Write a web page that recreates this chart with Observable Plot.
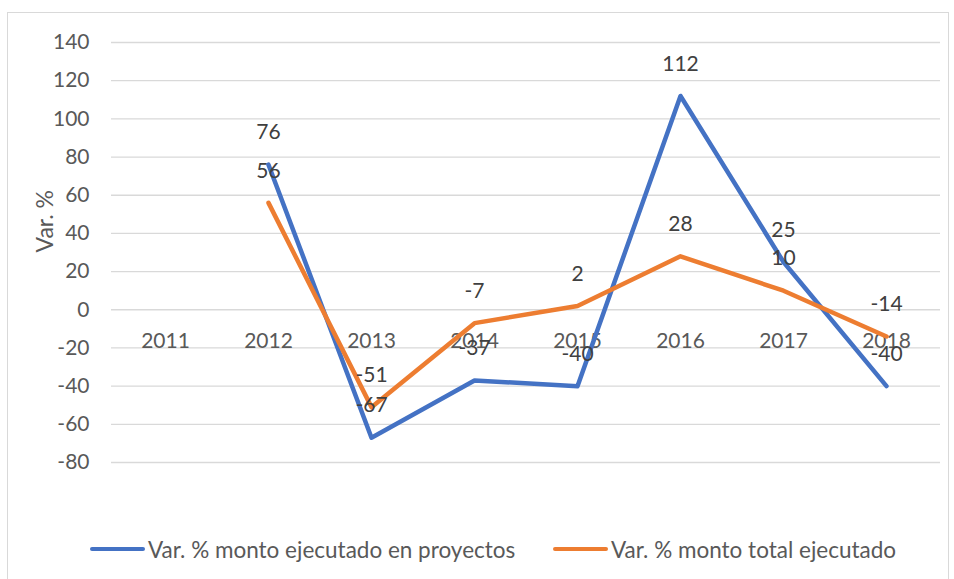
<!DOCTYPE html>
<html>
<head>
<meta charset="utf-8">
<script src="https://cdn.jsdelivr.net/npm/d3@7"></script>
<script src="https://cdn.jsdelivr.net/npm/@observablehq/plot@0.6"></script>
<style>
  html, body { margin: 0; padding: 0; background: #fff; }
  body { width: 954px; height: 579px; position: relative; overflow: hidden; font-family: Lato, "Open Sans", sans-serif; }
  #frame { position: absolute; left: 7px; top: 12px; width: 942px; height: 580px; border: 1px solid #d9d9d9; box-sizing: border-box; }
  #chart { position: absolute; left: 0; top: 0; }
  .leg { position: absolute; top: 536px; height: 26px; display: flex; align-items: center; font-size: 22.5px; color: #595959; white-space: nowrap; }
  .sw { width: 55px; height: 4.5px; border-radius: 2.5px; margin-right: 3px; }
</style>
</head>
<body>
<div id="frame"></div>
<div id="chart"></div>
<div class="leg" id="leg1" style="left:90px"><span class="sw" style="background:#4472C4"></span><span id="l1"></span></div>
<div class="leg" id="leg2" style="left:553px"><span class="sw" style="background:#ED7D31"></span><span id="l2"></span></div>
<script>
const years = ["2011", "2012", "2013", "2014", "2015", "2016", "2017", "2018"];
const proyectos = [null, 76, -67, -37, -40, 112, 25, -40];
const total = [null, 56, -51, -7, 2, 28, 10, -14];
const seriesNames = ["Var. % monto ejecutado en proyectos", "Var. % monto total ejecutado"];
const yTicks = [-80, -60, -40, -20, 0, 20, 40, 60, 80, 100, 120, 140];
const yLabel = "Var. %";

const blue = "#4472C4", orange = "#ED7D31";
const rowsA = years.map((y, i) => ({year: y, v: proyectos[i]})).filter(d => d.v != null);
const rowsB = years.map((y, i) => ({year: y, v: total[i]})).filter(d => d.v != null);

document.getElementById("l1").textContent = seriesNames[0];
document.getElementById("l2").textContent = seriesNames[1];

const FS = 21;
const chart = Plot.plot({
  width: 954,
  height: 520,
  marginTop: 42,
  marginBottom: 58,
  marginLeft: 111,
  marginRight: 14,
  style: {fontFamily: "Lato, 'Open Sans', sans-serif", fontSize: FS + "px", color: "#595959", background: "transparent"},
  x: {type: "point", domain: years, padding: 0.5, axis: null},
  y: {domain: [-80, 140], axis: null},
  marks: [
    Plot.gridY(yTicks, {stroke: "#d9d9d9", strokeOpacity: 1, strokeWidth: 1.3}),
    Plot.axisY(yTicks, {tickSize: 0, tickPadding: 22, fontSize: FS, fill: "#595959", label: null, tickFormat: d => String(d)}),
    Plot.text([yLabel], {frameAnchor: "left", dx: -66, rotate: -90, fontSize: 23, fill: "#595959"}),
    Plot.text(years, {x: d => d, y: () => 0, dy: 31, fontSize: FS, fill: "#595959"}),
    Plot.line(rowsA, {x: "year", y: "v", stroke: blue, strokeWidth: 4.5, strokeLinecap: "round", strokeLinejoin: "round"}),
    Plot.line(rowsB, {x: "year", y: "v", stroke: orange, strokeWidth: 4.5, strokeLinecap: "round", strokeLinejoin: "round"}),
    Plot.text(rowsA, {x: "year", y: "v", text: d => String(d.v), dy: -32, fontSize: FS, fill: "#404040"}),
    Plot.text(rowsB, {x: "year", y: "v", text: d => String(d.v), dy: -32, fontSize: FS, fill: "#404040"})
  ]
});
document.getElementById("chart").appendChild(chart);
</script>
</body>
</html>
